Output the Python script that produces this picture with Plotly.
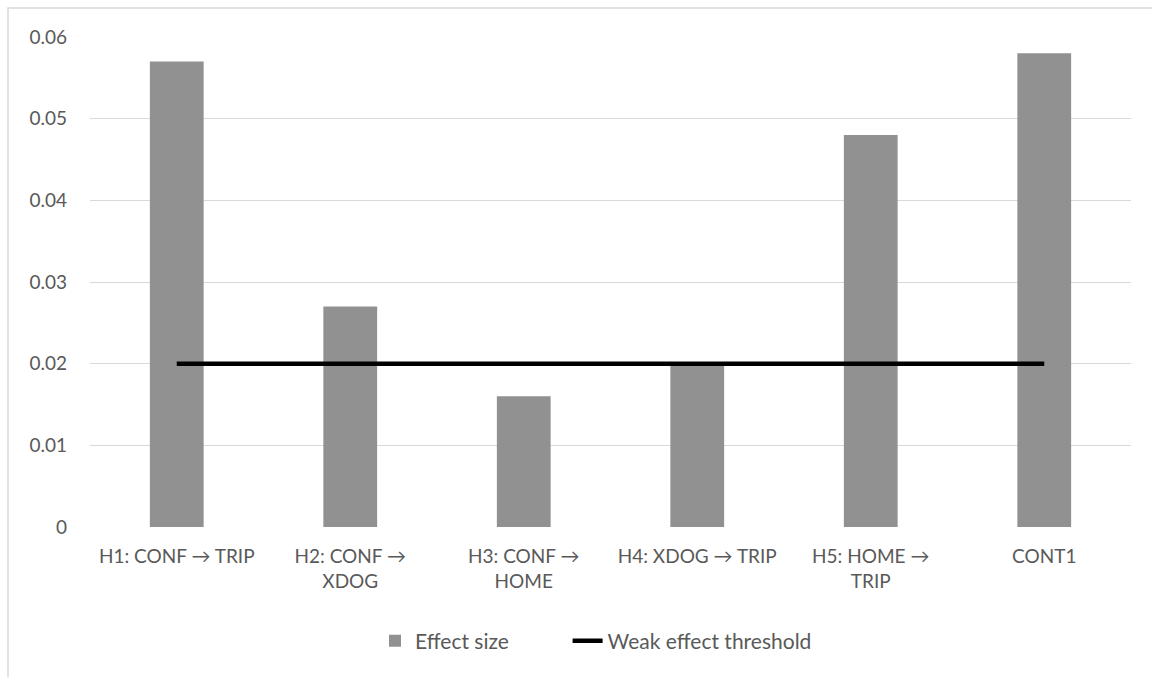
import plotly.graph_objects as go

# Hypothesis labels, effect sizes and the weak-effect threshold
categories = [
    "H1: CONF \u2192 TRIP",
    "H2: CONF \u2192<br>XDOG",
    "H3: CONF \u2192<br>HOME",
    "H4: XDOG \u2192 TRIP",
    "H5: HOME \u2192<br>TRIP",
    "CONT1",
]
effect_size = [0.057, 0.027, 0.016, 0.020, 0.048, 0.058]
weak_threshold = [0.02, 0.02, 0.02, 0.02, 0.02, 0.02]
y_ticks = [0, 0.01, 0.02, 0.03, 0.04, 0.05, 0.06]
y_tick_text = ["0", "0.01", "0.02", "0.03", "0.04", "0.05", "0.06"]

FONT = "Lato, 'Open Sans', sans-serif"
FSIZE = 19
TEXT_COLOR = "#595959"
GRID = "#d9d9d9"

fig = go.Figure()
fig.add_trace(go.Bar(
    x=categories, y=effect_size,
    name="Effect size" + "\u00a0" * 10,
    marker=dict(color="#919191", line=dict(width=0)),
))
fig.add_trace(go.Scatter(
    x=categories, y=weak_threshold, name="Weak effect threshold",
    mode="lines", line=dict(color="#000000", width=4.5),
))

W, H = 1152, 677
ml, mr, mt, mb = 90, 21, 37, 150
pw, ph = W - ml - mr, H - mt - mb

# outer chart frame (left and top edges visible)
fig.add_shape(
    type="rect", xref="paper", yref="paper",
    x0=(8 - ml) / pw, x1=1 + (mr + 20) / pw,
    y0=-(mb + 20) / ph, y1=1 + (mt - 8) / ph,
    line=dict(color=GRID, width=1.5), fillcolor="rgba(0,0,0,0)", layer="below",
)

fig.update_layout(
    width=W, height=H,
    margin=dict(l=ml, r=mr, t=mt, b=mb),
    paper_bgcolor="white", plot_bgcolor="white",
    font=dict(family=FONT, size=FSIZE, color=TEXT_COLOR),
    bargap=0.69,
    showlegend=True,
    legend=dict(
        orientation="h", x=(375 - ml) / pw, xanchor="left",
        y=-(641 - 527) / ph, yanchor="middle",
        font=dict(family=FONT, size=21, color=TEXT_COLOR),
        itemwidth=30, tracegroupgap=0,
    ),
)
fig.update_xaxes(
    showgrid=False, zeroline=False, showline=False, ticks="",
    tickfont=dict(family=FONT, size=FSIZE, color=TEXT_COLOR),
    tickangle=0, ticklabelstandoff=16,
)
fig.update_yaxes(
    range=[0, 0.06], tickvals=y_ticks, ticktext=y_tick_text,
    showgrid=True, gridcolor=GRID, gridwidth=1.3,
    zeroline=False, showline=False, ticks="",
    tickfont=dict(family=FONT, size=FSIZE, color=TEXT_COLOR),
    ticklabelstandoff=22,
)

fig.write_html("out.html")
